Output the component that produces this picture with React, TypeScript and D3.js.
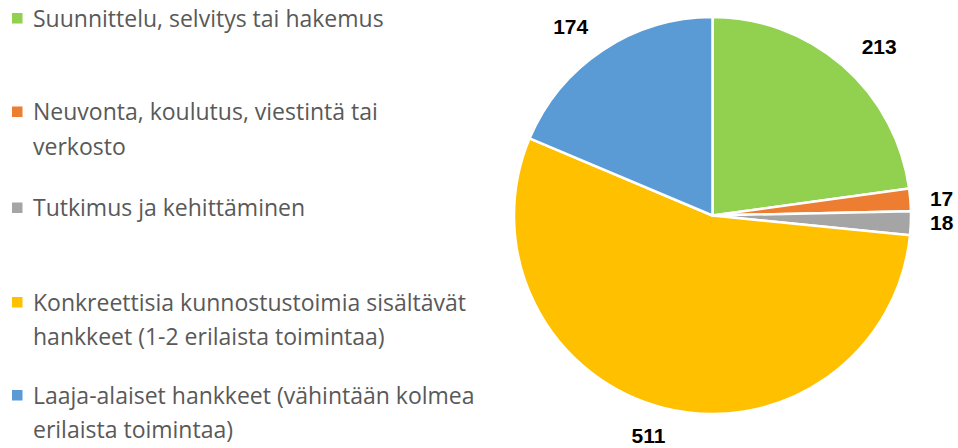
import React from "react";
import * as d3 from "d3";

const categories = [
  "Suunnittelu, selvitys tai hakemus",
  "Neuvonta, koulutus, viestintä tai verkosto",
  "Tutkimus ja kehittäminen",
  "Konkreettisia kunnostustoimia sisältävät hankkeet (1-2 erilaista toimintaa)",
  "Laaja-alaiset hankkeet (vähintään kolmea erilaista toimintaa)",
];
const values = [213, 17, 18, 511, 174];
const colors = ["#92D050", "#ED7D31", "#A5A5A5", "#FFC000", "#5B9BD5"];
const legendLines = [
  ["Suunnittelu, selvitys tai hakemus"],
  ["Neuvonta, koulutus, viestintä tai", "verkosto"],
  ["Tutkimus ja kehittäminen"],
  ["Konkreettisia kunnostustoimia sisältävät", "hankkeet (1-2 erilaista toimintaa)"],
  ["Laaja-alaiset hankkeet (vähintään kolmea", "erilaista toimintaa)"],
];

const W = 958;
const H = 448;
const cx = 712.5;
const cy = 215.5;
const R = 198.5;
const labelGap = 18.5;
const legendY = [26.5, 120, 216, 310.5, 403.5];
const lineH = 34.5;

export default function App() {
  const data = categories.map((c, i) => ({ c, v: values[i], color: colors[i] }));
  const pie = d3.pie<any>().sort(null).value((d) => d.v).startAngle(0).endAngle(2 * Math.PI);
  const arcs = pie(data);
  const arc = d3.arc<any>().innerRadius(0).outerRadius(R);

  const labelPos = (a: any) => {
    const mid = (a.startAngle + a.endAngle) / 2;
    // spread labels slightly away from vertical axis (outside-end placement)
    const th = mid + (3.7 * Math.PI / 180) * Math.sin(2 * mid);
    const label = String(a.data.v);
    const hw = (label.length * 12) / 2;
    const hh = 10;
    const r = R + labelGap + Math.abs(hw * Math.sin(th)) + Math.abs(hh * Math.cos(th));
    return [r * Math.sin(th), -r * Math.cos(th)];
  };

  return (
    <svg width={W} height={H} style={{ position: "absolute", left: 0, top: 0, background: "#fff" }}>
      <g transform={`translate(${cx},${cy})`}>
        {arcs.map((a, i) => (
          <path key={i} d={arc(a) as string} fill={a.data.color} stroke="#fff" strokeWidth={2.5} strokeLinejoin="round" />
        ))}
        {arcs.map((a, i) => {
          const [x, y] = labelPos(a);
          return (
            <text
              key={"l" + i}
              x={x}
              y={Math.min(y + 6.5, H - 5 - cy)}
              textAnchor="middle"
              fontFamily="'Liberation Sans', Arial, sans-serif"
              fontWeight="bold"
              fontSize={21}
              fill="#000"
            >
              {a.data.v}
            </text>
          );
        })}
      </g>
      <g>
        {legendLines.map((lines, i) => (
          <g key={"lg" + i}>
            <rect x={12} y={legendY[i] - 13.5} width={10.5} height={10.5} fill={colors[i]} />
            {lines.map((t, j) => (
              <text
                key={j}
                x={33}
                y={legendY[i] + j * lineH}
                fontFamily="'Open Sans', sans-serif"
                fontSize={23}
                fill="#595959"
              >
                {t}
              </text>
            ))}
          </g>
        ))}
      </g>
    </svg>
  );
}
